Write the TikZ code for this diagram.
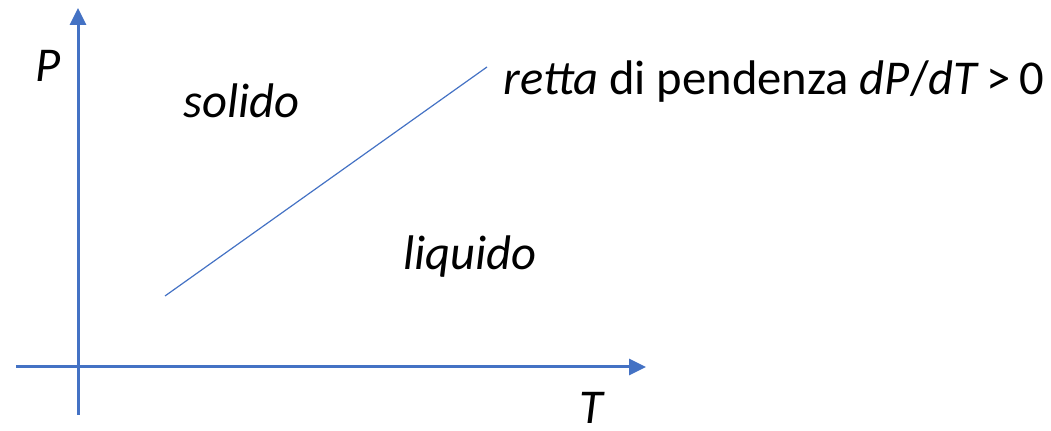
\documentclass[tikz,border=0pt]{standalone}
\usepackage{fontspec}
\setmainfont{Carlito}
\usetikzlibrary{arrows.meta,positioning}
\definecolor{axisblue}{HTML}{4472C4}
\begin{document}
\begin{tikzpicture}[x=0.5pt, y=0.5pt, every node/.style={font=\fontsize{24.3}{29}\selectfont, inner sep=0pt}, axis/.style={axisblue, line width=1.5pt, -{Triangle[length=8.5pt, width=8pt]}}]
\useasboundingbox (0,0) rectangle (1051,431);
\coordinate (tstart) at (16,64);
\coordinate (tend) at (646,64);
\coordinate (pstart) at (78,16);
\coordinate (pend) at (78,423);
\coordinate (a) at (165,135);
\coordinate (b) at (487,364);
\draw[axis] (tstart) -- (tend);
\draw[axis] (pstart) -- (pend);
\draw[axisblue, line width=0.6pt] (a) -- (b);
\node[anchor=base west] (plab) at (35,349) {\itshape P};
\node[anchor=base, text depth=0pt] (tlab) at (591,7) {\itshape T};
\node[anchor=base west] (sol) at (183,313) {\itshape solido};
\node[anchor=base west] (liq) at (403,161) {\itshape liquido};
\node[anchor=base west] (retta) at (503,336) {\itshape retta\upshape{} di pendenza \itshape dP\upshape/\itshape dT\upshape\kern0.18em>\kern0.18em0};
\end{tikzpicture}
\end{document}
